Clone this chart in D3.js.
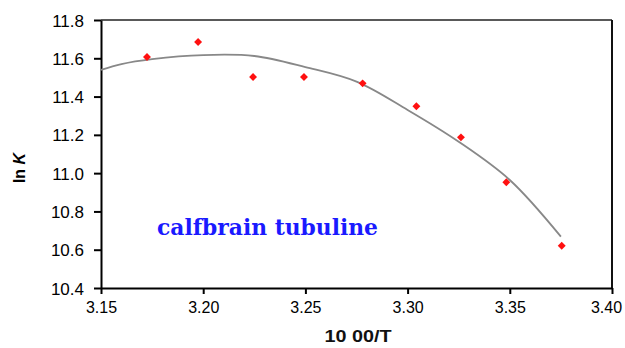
<!DOCTYPE html>
<html><head><meta charset="utf-8">
<script src="https://cdn.jsdelivr.net/npm/d3@7"></script>
<style>body{margin:0;background:#fff}svg{display:block}</style>
</head><body>
<script>
const xTicks = [3.15, 3.20, 3.25, 3.30, 3.35, 3.40];
const yTicks = [10.4, 10.6, 10.8, 11.0, 11.2, 11.4, 11.6, 11.8];
const pointX = [3.1725, 3.1975, 3.2244, 3.2493, 3.2780, 3.3043, 3.3261, 3.3483, 3.3754];
const pointY = [11.607, 11.685, 11.502, 11.502, 11.469, 11.349, 11.187, 10.952, 10.621];
const curveX = [3.150, 3.160, 3.175, 3.200, 3.225, 3.250, 3.275, 3.300, 3.325, 3.350, 3.375];
const curveY = [11.539, 11.570, 11.596, 11.617, 11.612, 11.554, 11.478, 11.330, 11.164, 10.964, 10.668];
const annotation = "calfbrain tubuline";

const W = 625, H = 348;
const m = {l:101, r:13, t:20, b:60};
const svg = d3.select("body").append("svg").attr("width", W).attr("height", H);
const x = d3.scaleLinear().domain([3.15, 3.40]).range([m.l, W - m.r]);
const y = d3.scaleLinear().domain([10.4, 11.8]).range([H - m.b, m.t]);

// frame top & right
svg.append("line").attr("x1", x(3.15)).attr("x2", x(3.40)).attr("y1", y(11.8)).attr("y2", y(11.8))
  .attr("stroke", "#222").attr("stroke-width", 1.5);
svg.append("line").attr("x1", x(3.40)).attr("x2", x(3.40)).attr("y1", y(11.8)).attr("y2", y(10.4))
  .attr("stroke", "#111").attr("stroke-width", 2);

const fmtX = d3.format(".2f"), fmtY = d3.format(".1f");
const gx = svg.append("g").attr("transform", `translate(0,${y(10.4)})`)
  .call(d3.axisBottom(x).tickValues(xTicks).tickFormat(fmtX).tickSize(6).tickSizeOuter(0));
const gy = svg.append("g").attr("transform", `translate(${x(3.15)},0)`)
  .call(d3.axisLeft(y).tickValues(yTicks).tickFormat(fmtY).tickSize(7).tickSizeOuter(0));
[gx, gy].forEach(g => {
  g.select(".domain").attr("stroke", "#000").attr("stroke-width", 2);
  g.selectAll(".tick line").attr("stroke", "#000").attr("stroke-width", 2);
  g.selectAll("text").attr("fill", "#000").style("font-family", "Liberation Sans, Arial, sans-serif").style("font-size", "17px");
});
gx.selectAll("text").attr("dy", "1.0em").style("font-size", "16px");
gx.selectAll(".tick").filter(d => d === 3.40).select("text").attr("dx", -6);
gy.selectAll("text").attr("x", -17).attr("dy", "0.36em");

// trend curve
const curve = curveX.map((d, i) => [d, curveY[i]]);
svg.append("path").datum(curve)
  .attr("d", d3.line().x(d => x(d[0])).y(d => y(d[1])).curve(d3.curveCatmullRom))
  .attr("fill", "none").attr("stroke", "#888").attr("stroke-width", 1.8);

// points (diamonds)
const pts = pointX.map((d, i) => [d, pointY[i]]);
svg.append("g").selectAll("path").data(pts).join("path")
  .attr("d", d3.symbol().type(d3.symbolDiamond2).size(40))
  .attr("transform", d => `translate(${x(d[0])},${y(d[1])})`)
  .attr("fill", "#ff1010");

// annotation
svg.append("text").attr("x", 157).attr("y", 235).text(annotation)
  .attr("fill", "#1a1aff").style("font-family", "DejaVu Serif, serif").style("font-weight", "bold")
  .style("font-size", "22px").attr("textLength", 221).attr("lengthAdjust", "spacingAndGlyphs");

// axis titles
const yl = svg.append("text").attr("transform", "translate(25,168) rotate(-90)")
  .attr("text-anchor", "middle").style("font-family", "Liberation Sans, Arial, sans-serif")
  .style("font-size", "16px").style("font-weight", "bold").attr("fill", "#000");
yl.append("tspan").text("ln ");
yl.append("tspan").text("K").style("font-style", "italic");
svg.append("text").attr("x", 358).attr("y", 342).attr("text-anchor", "middle")
  .style("font-family", "Liberation Sans, Arial, sans-serif").style("font-size", "16px")
  .style("font-weight", "bold").attr("fill", "#111").attr("textLength", 67).attr("lengthAdjust", "spacingAndGlyphs")
  .text("10 00/T");
</script>
</body></html>
